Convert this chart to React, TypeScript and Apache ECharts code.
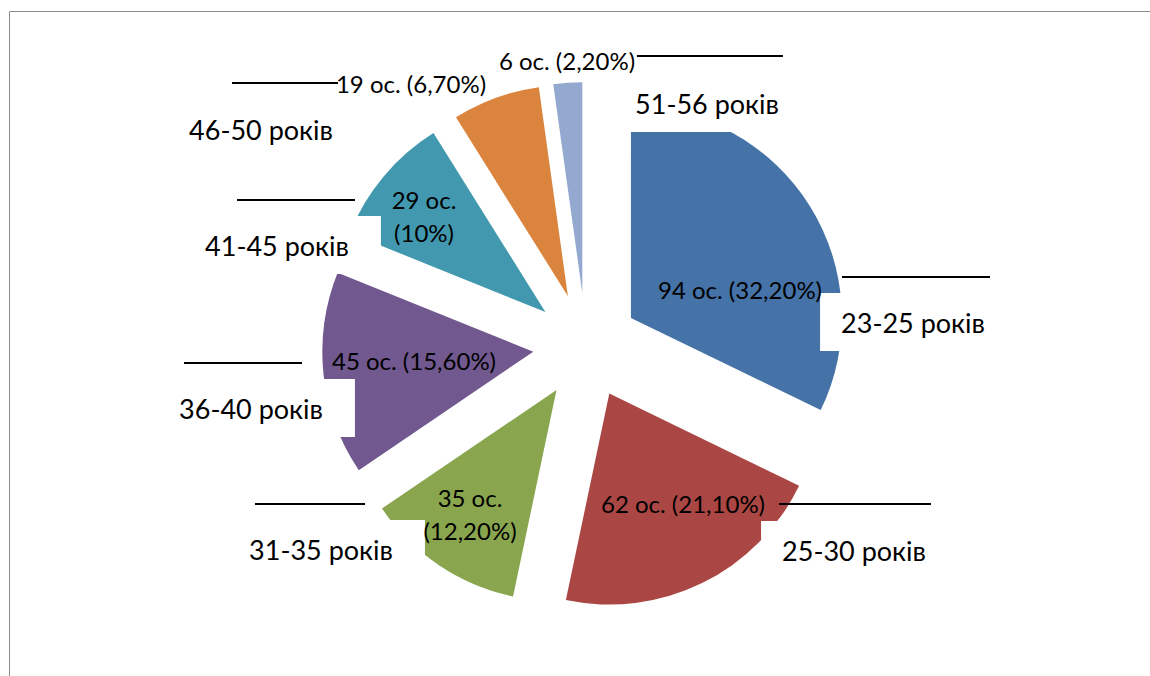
import React, { useEffect, useRef } from 'react';
import * as echarts from 'echarts';

// ---- data ----
const ageGroups = ['23-25 років', '25-30 років', '31-35 років', '36-40 років', '41-45 років', '46-50 років', '51-56 років'];
const counts = [94, 62, 35, 45, 29, 19, 6];
const percentShares = [32.2, 21.1, 12.2, 15.6, 10, 6.7, 2.2];

// ---- styles / layout (kept apart from data) ----
const sliceColors = ['#4572A7', '#AA4643', '#89A54E', '#71588F', '#4198AF', '#DB843D', '#93A9CF'];
const valueLabelAt = [[740, 289], [683, 503], [470, 514], [414, 360], [424, 216], [411, 83], [567, 60]];
const valueLabelBreak = [false, false, true, false, true, false, false];
const nameLabelAt = [[913, 323], [854, 551], [321, 550], [251, 409], [277, 246], [261, 130], [707, 104]];
const ruleAt = [[842, 990, 277], [779, 931, 504], [255, 365, 504], [184, 302, 363], [237, 355, 200], [232, 338, 83], [637, 783, 56]];
const PIE_CENTER = [586, 346];
const PIE_R = 211;
const EXPLODE = 53;
const NAME_PAD = [14, 32, 12, 21]; // top right bottom left
const FONT = 'Lato, "Noto Sans", sans-serif';

const fmtPercent = (v: number) =>
  Number.isInteger(v) ? `${v}%` : `${v.toFixed(2).replace('.', ',')}%`;

export default function App() {
  const ref = useRef<HTMLDivElement>(null);

  useEffect(() => {
    if (!ref.current) return;
    const chart = echarts.init(ref.current, null, { renderer: 'svg' });

    const baseData = ageGroups.map((name, i) => ({ name, value: percentShares[i] }));
    const ghostCommon = {
      type: 'pie',
      center: PIE_CENTER,
      radius: PIE_R,
      startAngle: 90,
      clockwise: true,
      silent: true,
      selectedMode: false,
      emphasis: { disabled: true },
      labelLine: { show: false },
      itemStyle: { color: 'rgba(0,0,0,0)', borderWidth: 0 },
    };

    const option = {
      animation: false,
      backgroundColor: '#ffffff',
      graphic: [
        {
          type: 'rect',
          shape: { x: 9.5, y: 11.5, width: 1300, height: 800 },
          style: { fill: 'none', stroke: '#8c8c8c', lineWidth: 1 },
          silent: true,
          z: 0,
        },
      ],
      series: [
        {
          type: 'pie',
          z: 1,
          center: PIE_CENTER,
          radius: PIE_R,
          startAngle: 90,
          clockwise: true,
          selectedMode: 'multiple',
          selectedOffset: EXPLODE,
          silent: true,
          emphasis: { disabled: true },
          label: { show: false },
          labelLine: { show: false },
          data: baseData.map((d, i) => ({
            ...d,
            selected: true,
            itemStyle: { color: sliceColors[i], borderWidth: 0 },
          })),
          select: { itemStyle: { borderWidth: 0 } },
        },
        {
          ...ghostCommon,
          z: 2,
          data: baseData,
          label: {
            show: true,
            position: 'inside',
            formatter: (p: any) => p.name,
            color: '#000',
            fontFamily: FONT,
            fontSize: 27,
            lineHeight: 32,
            backgroundColor: '#ffffff',
            padding: NAME_PAD,
          },
          labelLayout: (p: any) => {
            const [cx, cy] = nameLabelAt[p.dataIndex];
            return {
              x: cx + (NAME_PAD[1] - NAME_PAD[3]) / 2,
              y: cy + (NAME_PAD[2] - NAME_PAD[0]) / 2,
              align: 'center',
              verticalAlign: 'middle',
            };
          },
        },
        {
          ...ghostCommon,
          z: 3,
          data: baseData.map((d, i) => ({
            ...d,
            label: {
              rich: {
                ln: { width: ruleAt[i][1] - ruleAt[i][0], height: 2, backgroundColor: '#000' },
              },
            },
          })),
          label: {
            show: true,
            position: 'inside',
            formatter: '{ln|}',
          },
          labelLayout: (p: any) => {
            const [x1, x2, y] = ruleAt[p.dataIndex];
            return { x: (x1 + x2) / 2, y, align: 'center', verticalAlign: 'middle' };
          },
        },
        {
          ...ghostCommon,
          z: 4,
          data: baseData,
          label: {
            show: true,
            position: 'inside',
            formatter: (p: any) =>
              `${counts[p.dataIndex]} ос.${valueLabelBreak[p.dataIndex] ? '\n' : ' '}(${fmtPercent(percentShares[p.dataIndex])})`,
            color: '#000',
            fontFamily: FONT,
            fontSize: 24,
            lineHeight: 33,
            align: 'center',
          },
          labelLayout: (p: any) => {
            const [cx, cy] = valueLabelAt[p.dataIndex];
            return { x: cx, y: cy, align: 'center', verticalAlign: 'middle' };
          },
        },
      ],
    };

    chart.setOption(option as any);
    return () => chart.dispose();
  }, []);

  return (
    <div
      ref={ref}
      style={{ position: 'fixed', left: 0, top: 0, width: 1150, height: 676, background: '#fff' }}
    />
  );
}
